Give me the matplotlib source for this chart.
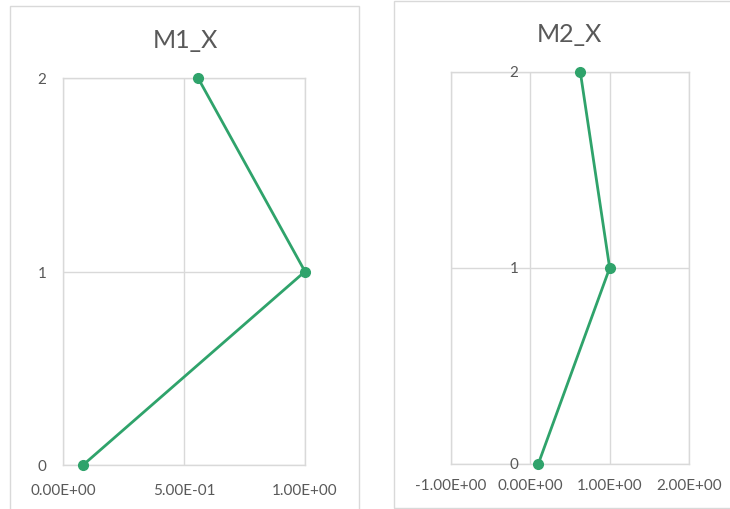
import matplotlib
matplotlib.use("Agg")
import matplotlib.pyplot as plt
from matplotlib.patches import Rectangle
from matplotlib.ticker import FuncFormatter

plt.rcParams['font.family'] = ['Lato', 'DejaVu Sans']

# Series data
m1_x = [0.083, 1.0, 0.558]
m1_y = [0, 1, 2]
m2_x = [0.10, 1.0, 0.63]
m2_y = [0, 1, 2]

m1_xticks = [0.0, 0.5, 1.0]
m2_xticks = [-1.0, 0.0, 1.0, 2.0]
y_ticks = [0, 1, 2]

GREEN = '#2FA36B'
GRID = '#D9D9D9'
TEXT = '#595959'
TICK_FS = 11
TITLE_FS = 18

W, H = 730, 510
fig = plt.figure(figsize=(W / 100, H / 100), dpi=100)
fig.patch.set_facecolor('white')


def px_rect(x0, y_top, x1, y_bot):
    return [x0 / W, 1 - y_bot / H, (x1 - x0) / W, (y_bot - y_top) / H]


# Chart frames
for (x0, y0, x1, y1) in [(10, 7, 359, 515), (394, 2, 735, 509)]:
    fig.patches.append(Rectangle((x0 / W, 1 - y1 / H), (x1 - x0) / W, (y1 - y0) / H,
                                 transform=fig.transFigure, fill=False,
                                 edgecolor=GRID, linewidth=1.0, zorder=0))

sci = FuncFormatter(lambda v, _: f"{v:.2E}")


def style(ax, xticks, xlim):
    ax.set_xlim(*xlim)
    ax.set_ylim(0, 2)
    ax.set_xticks(xticks)
    ax.set_yticks(y_ticks)
    ax.xaxis.set_major_formatter(sci)
    ax.grid(True, color=GRID, linewidth=1.0)
    ax.set_axisbelow(True)
    for s in ax.spines.values():
        s.set_color(GRID)
        s.set_linewidth(1.0)
    ax.tick_params(length=0, colors=TEXT, labelsize=TICK_FS)


# M1_X
ax1 = fig.add_axes(px_rect(63, 79, 305, 466))
style(ax1, m1_xticks, (0.0, 1.0))
ax1.tick_params(axis='x', pad=13)
ax1.tick_params(axis='y', pad=12)
ax1.plot(m1_x, m1_y, color=GREEN, linewidth=2.0, marker='o', markersize=7,
         clip_on=False, zorder=3)
fig.text(185 / W, 1 - 41 / H, 'M1_X', ha='center', va='center',
         fontsize=TITLE_FS, color=TEXT)

# M2_X
ax2 = fig.add_axes(px_rect(451, 73, 689, 465))
style(ax2, m2_xticks, (-1.0, 2.0))
ax2.tick_params(axis='x', pad=10)
ax2.set_yticklabels([])
for v in y_ticks:
    ax2.annotate(str(v), xy=(0, v), xytext=(-12, 0), textcoords='offset pixels',
                 ha='right', va='center', fontsize=TICK_FS, color=TEXT,
                 annotation_clip=False)
ax2.plot(m2_x, m2_y, color=GREEN, linewidth=2.0, marker='o', markersize=7,
         clip_on=False, zorder=3)
fig.text(569 / W, 1 - 34 / H, 'M2_X', ha='center', va='center',
         fontsize=TITLE_FS, color=TEXT)

fig.savefig('out.png', dpi=100)
